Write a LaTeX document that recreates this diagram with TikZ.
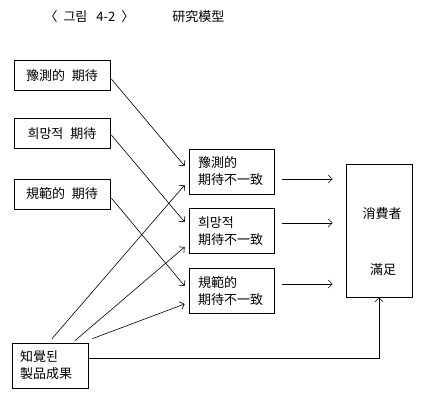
\documentclass[tikz,border=0pt]{standalone}
\usepackage{fontspec}
\setmainfont{Noto Sans CJK KR}
\usetikzlibrary{arrows.meta}
\begin{document}
\begin{tikzpicture}[x=1pt,y=-1pt,
  every node/.style={font=\fontsize{13}{17}\selectfont},
  box/.style={draw,line width=0.7pt,inner sep=0pt},
  lbox/.style={box,minimum width=96pt,minimum height=30pt},
  mbox/.style={box,minimum width=85pt,minimum height=45pt,text width=67pt,align=left,inner xsep=9pt},
  arr/.style={line width=0.6pt,-{Straight Barb[length=4pt,width=8pt]}},
  ln/.style={line width=0.6pt}]
\useasboundingbox (0,0) rectangle (435,407);
% title
\node[anchor=west,font=\fontsize{13}{15}\selectfont] (title) at (41,17) {〈\hspace{6pt}그림\hspace{9pt}4-2\hspace{6pt}〉\hspace{38pt}研究模型};
% left boxes
\node[lbox] (b1) at (62,75.5) {豫測的\hspace{7pt}期待};
\node[lbox] (b2) at (62,133.5) {희망적\hspace{7pt}期待};
\node[lbox] (b3) at (62,194) {規範的\hspace{7pt}期待};
% middle boxes
\node[mbox] (m1) at (231.5,171.5) {豫測的\\期待不一致};
\node[mbox] (m2) at (231.5,231) {희망적\\期待不一致};
\node[mbox] (m3) at (231.5,291) {規範的\\期待不一致};
% right box
\node[box,minimum width=66pt,minimum height=133pt] (r) at (379,230.5) {};
\node (r1) at (382,214) {消費者};
\node (r2) at (383,270) {滿足};
% bottom box
\node[box,minimum width=76pt,minimum height=45pt,text width=60pt,align=left,inner xsep=8pt] (bp) at (50,365.5) {知覺된\\製品成果};
% connectors from expectations
\draw[arr] ([xshift=1pt,yshift=-3.5pt]b1.east) -- ([xshift=-4pt,yshift=5.5pt]m1.west);
\draw[arr] ([xshift=1pt,yshift=-1.5pt]b2.east) -- ([xshift=-4pt,yshift=9pt]m2.west);
\draw[arr] ([xshift=1pt,yshift=-4pt]b3.east) -- ([xshift=-4pt,yshift=5pt]m3.west);
% connectors from performance
\draw[arr] ([xshift=2pt,yshift=4pt]bp.north) -- ([xshift=-4pt,yshift=-13.5pt]m1.west);
\draw[arr] ([xshift=25pt,yshift=2pt]bp.north) -- ([xshift=-4pt,yshift=-16pt]m2.west);
\draw[arr] ([xshift=4pt,yshift=4pt]bp.north east) -- ([xshift=-4pt,yshift=-13pt]m3.west);
\draw[arr] ([yshift=7.5pt]bp.east) -| (r.south);
% horizontal arrows
\draw[arr,shorten >=13pt] ([xshift=8pt,yshift=-7.5pt]m1.east) coordinate (h1) -- (h1 -| r.west);
\draw[arr,shorten >=13pt] ([xshift=8pt,yshift=8pt]m2.east) coordinate (h2) -- (h2 -| r.west);
\draw[arr,shorten >=13pt] ([xshift=8pt,yshift=7pt]m3.east) coordinate (h3) -- (h3 -| r.west);
\end{tikzpicture}
\end{document}
